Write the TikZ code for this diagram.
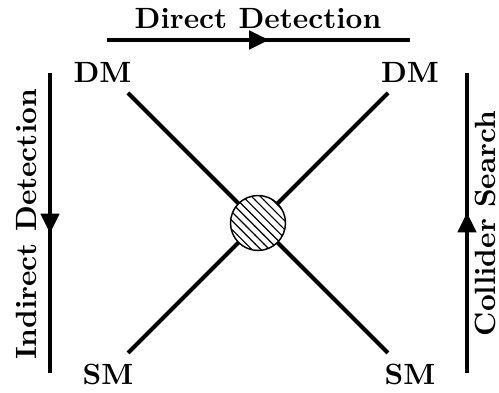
\documentclass[tikz,border=0pt]{standalone}
\usepackage{tikz}
\usetikzlibrary{arrows.meta,decorations.markings,patterns}

\begin{document}
\begin{tikzpicture}[font=\bfseries,
  leg/.style={line width=1.4pt},
  flow/.style={line width=1.4pt, postaction={decorate}, decoration={markings, mark=at position 0.535 with {\arrow{Triangle[length=6.8pt, width=6.2pt]}}}},
  lbl/.style={anchor=base, inner sep=0pt},
  blob/.style={circle, draw, line width=0.5pt, minimum size=0.66cm, inner sep=0pt, fill=white, postaction={pattern=north west lines}}]
\useasboundingbox (0,0) rectangle (5.988,4.716);
% ===== the four legs =====
\coordinate (tl) at (1.536,3.6);
\coordinate (tr) at (4.656,3.6);
\coordinate (bl) at (1.536,0.48);
\coordinate (br) at (4.656,0.48);
\draw[leg] (tl) -- (br);
\draw[leg] (tr) -- (bl);
\node[blob] (vtx) at (3.096,2.04) {};
\node[lbl] (dm1) at (1.23,3.726) {DM};
\node[lbl] (dm2) at (4.92,3.726) {DM};
\node[lbl] (sm1) at (1.296,0.096) {SM};
\node[lbl] (sm2) at (4.92,0.096) {SM};
% ===== channels =====
\coordinate (dd1) at (1.284,4.236);
\coordinate (dd2) at (4.92,4.236);
\draw[flow] (dd1) -- (dd2);
\node[lbl] (ddtxt) at (3.096,4.376) {Direct Detection};
\coordinate (id1) at (0.6,3.84);
\coordinate (id2) at (0.6,0.24);
\draw[flow] (id1) -- (id2);
\node[lbl, rotate=90] (idtxt) at (0.44,2.022) {Indirect Detection};
\coordinate (cs1) at (5.604,0.24);
\coordinate (cs2) at (5.604,3.84);
\draw[flow] (cs1) -- (cs2);
\node[lbl, rotate=90] (cstxt) at (5.94,2.034) {Collider Search};
\end{tikzpicture}
\end{document}
